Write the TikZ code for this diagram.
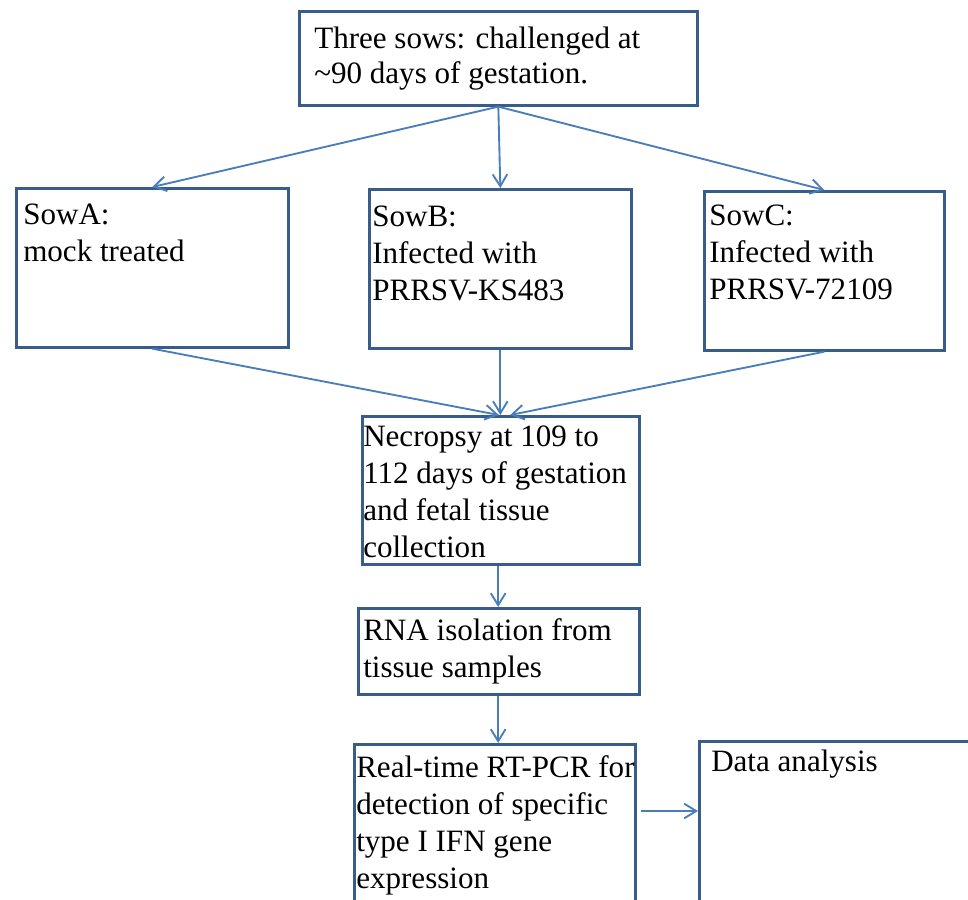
\documentclass[tikz,border=0pt]{standalone}
\usepackage{fontspec}
\setmainfont{Liberation Serif}
\usetikzlibrary{arrows.meta}
\definecolor{boxblue}{RGB}{56,93,138}
\definecolor{arrowblue}{RGB}{74,126,187}
\begin{document}
\begin{tikzpicture}[x=0.75pt,y=0.75pt,yscale=-1,xscale=1,
  stepbox/.style={draw=boxblue, line width=2pt, rectangle, inner sep=0pt, anchor=north west},
  boxtext/.style={inner sep=0pt, anchor=base west, align=left, font=\fontsize{23.3pt}{27.75pt}\selectfont},
  flow/.style={draw=arrowblue, line width=1.4pt, -{Straight Barb[length=9pt,width=11pt]}}]
\path[use as bounding box, clip] (0,0) rectangle (968,900);

%Boxes
\node[stepbox, minimum width=298.5pt, minimum height=70.5pt] (sows) at (298,10) {};
\node[stepbox, minimum width=204pt, minimum height=119.25pt] (sowA) at (15,187) {};
\node[stepbox, minimum width=196.5pt, minimum height=119.25pt] (sowB) at (368,188) {};
\node[stepbox, minimum width=180pt, minimum height=119.25pt] (sowC) at (703,190) {};
\node[stepbox, minimum width=207.75pt, minimum height=111pt] (necropsy) at (361,415) {};
\node[stepbox, minimum width=210.75pt, minimum height=64.5pt] (rna) at (357,607) {};
\node[stepbox, minimum width=210.75pt, minimum height=135pt] (pcr) at (353,743) {};
\node[stepbox, minimum width=220pt, minimum height=135pt] (data) at (698,740) {};

% Text Node (placed at the baseline of the last line)
\node[boxtext, font=\fontsize{23.3pt}{26.25pt}\selectfont] (sowstext) at (314,83) {Three sows: challenged at\\\textasciitilde90 days of gestation.};
% Text Node
\node[boxtext] (sowAtext) at (23,261) {SowA:\\mock treated};
% Text Node
\node[boxtext] (sowBtext) at (372,300) {SowB:\\Infected with\\PRRSV-KS483};
% Text Node
\node[boxtext] (sowCtext) at (709,299) {SowC:\\Infected with\\PRRSV-72109};
% Text Node
\node[boxtext] (necropsytext) at (363,557) {Necropsy at 109 to\\112 days of gestation\\and fetal tissue\\collection};
% Text Node
\node[boxtext] (rnatext) at (363,677) {RNA isolation from\\tissue samples};
% Text Node
\node[boxtext] (pcrtext) at (356,888) {Real-time RT-PCR for\\detection of specific\\type I IFN gene\\expression};
% Text Node
\node[boxtext] (datatext) at (711,771) {Data analysis};

%Straight Lines
\draw[flow] (sows.south) -- (sowA.north);
\draw[flow] (sows.south) -- (sowB.north);
\draw[flow] (sows.south) -- (sowC.north);
\draw[flow] (sowA.south) -- ([xshift=-1.5pt]necropsy.north);
\draw[flow] (sowB.south) -- (sowB.south |- necropsy.north);
\draw[flow] (sowC.south) -- ([xshift=7pt]necropsy.north);
\draw[flow] ([xshift=-2pt]necropsy.south) -- ([xshift=-2pt]necropsy.south |- rna.north);
\draw[flow] ([xshift=-0.5pt]rna.south) -- ([xshift=-0.5pt]rna.south |- pcr.north);
\draw[flow] ([xshift=3pt,yshift=51pt]pcr.north east) coordinate (pcrout) -- (pcrout -| data.west);

\end{tikzpicture}
\end{document}
